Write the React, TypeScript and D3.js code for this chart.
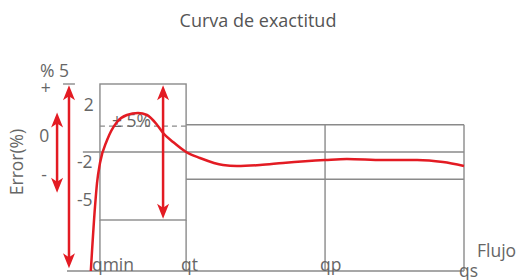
import * as d3 from 'd3';

// flow in arbitrary units (qs = 100), error in %
const flowMarks = ['qmin', 'qt', 'qp', 'qs'];
const flowValues = [8.3, 30, 65, 100];

const curveFlow = [6.0, 7.05, 7.56, 8.31, 10.1, 12.6, 15.1, 17.9, 20.15, 22.7, 24.2, 26.7, 30.0, 33.5, 39.3, 42.8, 48.6, 54.4, 65.0, 70.5, 79.6, 88.2, 94.7, 100];
const curveError = [-8.75, -4.04, -2.28, -0.81, 0.88, 2.21, 2.72, 2.87, 2.72, 1.99, 1.4, 0.74, 0, -0.44, -0.96, -1.03, -0.96, -0.81, -0.59, -0.51, -0.59, -0.59, -0.74, -1.03];

const yTickLabels = ['% 5', '+', '2', '0', '-2', '-', '-5'];
const yTickValues = [5.5, 4.25, 3.0, 0.75, -1.2, -2.1, -4.0];
const yTickFlow = [-6.8, -6.6, 4.2, -7.0, 2.5, -6.5, 2.5];

const arrowFlow = [0.5, -2.5, 24.2];
const arrowFrom = [4.9, 2.9, 4.9];
const arrowTo = [-8.55, -3.0, -4.9];

const W = 521;
const H = 280;
const GREY = '#8a8a8a';
const RED = '#e31b23';
const TEXT = '#666';
const FS = 17.5;

const x = d3.scaleLinear().domain([0, 100]).range([67, 464]);
const y = d3.scaleLinear().domain([-5, 5]).range([220, 84]);
const BASE = -8.75;

function Arrow({ fx, e0, e1 }: { fx: number; e0: number; e1: number }) {
  const px = x(fx);
  const y0 = y(e0);
  const y1 = y(e1);
  const hl = 15;
  const hw = 6;
  const head = (tip: number, dir: number) =>
    `M${px},${tip} L${px - hw},${tip + dir * hl} L${px},${tip + dir * (hl - 4)} L${px + hw},${tip + dir * hl} Z`;
  return (
    <g>
      <line x1={px} x2={px} y1={y0 + 8} y2={y1 - 8} stroke={RED} strokeWidth={2.5} />
      <path d={head(y0, 1)} fill={RED} />
      <path d={head(y1, -1)} fill={RED} />
    </g>
  );
}

export default function App() {
  const line = d3
    .line<number>()
    .x((_, i) => x(curveFlow[i]))
    .y((_, i) => y(curveError[i]))
    .curve(d3.curveMonotoneX);

  const [qmin, qt, qp, qs] = flowValues;
  const font = "'Open Sans', sans-serif";

  return (
    <svg width={W} height={H} style={{ position: 'absolute', left: 0, top: 0 }} fontFamily={font}>
      <text x={258} y={27} textAnchor="middle" fontSize={18} fill="#555">
        Curva de exactitud
      </text>

      <g stroke={GREY} strokeWidth={1.4} fill="none">
        {/* baseline */}
        <line x1={x(0)} x2={x(qs)} y1={y(BASE)} y2={y(BASE)} />
        {/* top tick */}
        <line x1={x(-1)} x2={x(2)} y1={y(5)} y2={y(5)} />
        {/* ±5% box */}
        <rect x={x(qmin)} y={y(5)} width={x(qt) - x(qmin)} height={y(-5) - y(5)} />
        <line x1={x(qmin)} x2={x(qmin)} y1={y(-5)} y2={y(BASE)} />
        <line x1={x(qt)} x2={x(qt)} y1={y(-5)} y2={y(BASE)} />
        {/* zero line */}
        <line x1={x(4)} x2={x(qs)} y1={y(0)} y2={y(0)} />
        {/* ±2% band */}
        <line x1={x(qt)} x2={x(qs)} y1={y(2)} y2={y(2)} />
        <line x1={x(qt)} x2={x(qs)} y1={y(-2)} y2={y(-2)} />
        <line x1={x(qp)} x2={x(qp)} y1={y(2)} y2={y(BASE)} />
        <line x1={x(qs)} x2={x(qs)} y1={y(2)} y2={y(BASE)} />
        <line x1={x(qmin)} x2={x(qt)} y1={y(1.9)} y2={y(1.9)} strokeDasharray="5,4" />
      </g>

      <text x={112} y={y(1.9) + 1} fontSize={FS} fill={TEXT}>± 5%</text>

      <path d={line(curveFlow) ?? ''} fill="none" stroke={RED} strokeWidth={2.5} />

      {arrowFlow.map((f, i) => (
        <Arrow key={i} fx={f} e0={arrowFrom[i]} e1={arrowTo[i]} />
      ))}

      {yTickLabels.map((t, i) => (
        <text key={t + i} x={x(yTickFlow[i])} y={y(yTickValues[i])} fontSize={FS} fill={TEXT}>
          {t}
        </text>
      ))}

      <text transform="translate(23,162) rotate(-90)" textAnchor="middle" fontSize={FS} fill={TEXT}>
        Error(%)
      </text>

      {flowMarks.map((m, i) => (
        <text
          key={m}
          x={x(flowValues[i]) - 8 + (i === 0 ? 0 : 3)}
          y={y(BASE) + (i === 3 ? 6 : 0)}
          fontSize={FS}
          fill={TEXT}
        >
          {m}
        </text>
      ))}

      <text x={477} y={257} fontSize={FS} fill={TEXT}>Flujo</text>
    </svg>
  );
}
